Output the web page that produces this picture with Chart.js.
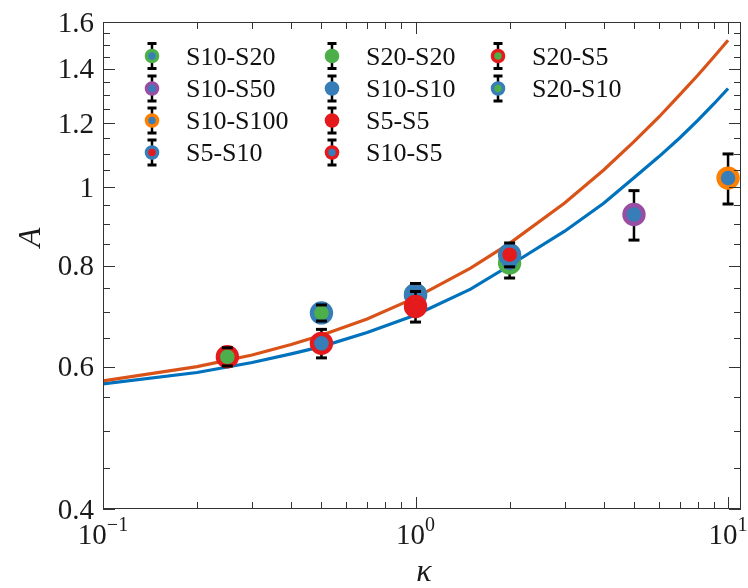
<!DOCTYPE html>
<html>
<head>
<meta charset="utf-8">
<script src="https://cdn.jsdelivr.net/npm/chart.js@4"></script>
<style>
  html, body { margin: 0; padding: 0; background: #fff; }
</style>
</head>
<body>
<canvas id="chart" width="748" height="588"></canvas>
<script>
// fitted curves
const kappaFit  = [0.1, 0.2, 0.3, 0.4, 0.5, 0.7, 1, 1.5, 2, 3, 4, 5, 6, 7, 8, 9, 10];
const fitOrange = [0.576, 0.600, 0.620, 0.639, 0.656, 0.687, 0.730, 0.794, 0.852, 0.956, 1.050, 1.138, 1.220, 1.300, 1.375, 1.448, 1.519];
const fitBlue   = [0.571, 0.590, 0.607, 0.622, 0.635, 0.661, 0.695, 0.748, 0.800, 0.882, 0.955, 1.027, 1.090, 1.150, 1.209, 1.267, 1.324];

// measured points
const names = ['S10-S20', 'S10-S50', 'S10-S100', 'S5-S10', 'S20-S20', 'S10-S10', 'S5-S5', 'S10-S5', 'S20-S5', 'S20-S10'];
const kappa = [2, 5, 10, 2, 1, 1, 1, 0.5, 0.25, 0.5];
const amp   = [0.806, 0.925, 1.026, 0.825, 0.736, 0.736, 0.712, 0.641, 0.617, 0.699];
const err   = [0.034, 0.065, 0.073, 0.028, 0.024, 0.024, 0.031, 0.026, 0.016, 0.016];

// ticks
const xMajor = [0.1, 1, 10];
const xExp   = ['\u22121', '0', '1'];
const xMinor = [0.2, 0.3, 0.4, 0.5, 0.6, 0.7, 0.8, 0.9, 2, 3, 4, 5, 6, 7, 8, 9];
const yMinor = [0.45, 0.5, 0.55, 0.65, 0.7, 0.75, 0.85, 0.9, 0.95, 1.05, 1.1, 1.15, 1.25, 1.3, 1.35, 1.45, 1.5, 1.55];
const yMajor = [0.4, 0.6, 0.8, 1, 1.2, 1.4, 1.6];
const yLabel = ['0.4', '0.6', '0.8', '1', '1.2', '1.4', '1.6'];

const GREEN = '#4daf4a', BLUE = '#377eb8', RED = '#e41a1c', PURPLE = '#984ea3', ORANGE = '#ff7f00';
const ringCol = [GREEN, PURPLE, ORANGE, BLUE, GREEN, BLUE, RED, RED, RED, BLUE];
const fillCol = [BLUE, BLUE, BLUE, RED, GREEN, BLUE, RED, BLUE, GREEN, GREEN];
const SERIF = '"Liberation Serif"';
const AXIS = '#333';

const pointSets = names.map((n, i) => ({
  type: 'scatter',
  label: n,
  data: [{ x: kappa[i], y: amp[i] }],
  err: [err[i]],
  pointBackgroundColor: fillCol[i],
  pointBorderColor: ringCol[i],
  pointRadius: 9.5,
  pointHoverRadius: 9.5,
  pointBorderWidth: 4.4,
  order: 10 - i,
}));

function curve(vals, color) {
  return {
    type: 'line',
    data: kappaFit.map((k, j) => ({ x: k, y: vals[j] })),
    borderColor: color, borderWidth: 3.2, pointRadius: 0, tension: 0, fill: false, order: 100,
  };
}

function drawCap(ctx, x, y, half) {
  ctx.beginPath();
  ctx.moveTo(x - half, y); ctx.lineTo(x + half, y);
  ctx.stroke();
}

const decor = {
  id: 'decor',
  beforeDatasetDraw(chart, args) {
    const ds = chart.data.datasets[args.index];
    if (!ds.err) return;
    const { ctx, scales: { x, y } } = chart;
    ctx.save();
    ctx.strokeStyle = '#000'; ctx.lineWidth = 2.5;
    ds.data.forEach((p, j) => {
      const px = x.getPixelForValue(p.x);
      ctx.beginPath();
      ctx.moveTo(px, y.getPixelForValue(p.y + ds.err[j]));
      ctx.lineTo(px, y.getPixelForValue(p.y - ds.err[j]));
      ctx.stroke();
    });
    ctx.restore();
  },
  afterDatasetDraw(chart, args) {
    const ds = chart.data.datasets[args.index];
    if (!ds.err) return;
    const { ctx, scales: { x, y } } = chart;
    ctx.save();
    ctx.strokeStyle = '#000'; ctx.lineWidth = 3;
    ds.data.forEach((p, j) => {
      const px = x.getPixelForValue(p.x);
      drawCap(ctx, px, y.getPixelForValue(p.y + ds.err[j]), 5.5);
      drawCap(ctx, px, y.getPixelForValue(p.y - ds.err[j]), 5.5);
    });
    ctx.restore();
  },
  afterDraw(chart) {
    const { ctx, chartArea: a, scales: { x, y } } = chart;
    ctx.save();
    ctx.strokeStyle = AXIS; ctx.lineWidth = 1;
    ctx.strokeRect(a.left + 0.5, a.top + 0.5, a.right - a.left - 1, a.bottom - a.top - 1);

    // inward ticks on all four sides
    const tickX = (v, len) => {
      const px = Math.round(x.getPixelForValue(v)) + 0.5;
      ctx.beginPath();
      ctx.moveTo(px, a.bottom); ctx.lineTo(px, a.bottom - len);
      ctx.moveTo(px, a.top); ctx.lineTo(px, a.top + len);
      ctx.stroke();
    };
    const tickY = (v, len) => {
      const py = Math.round(y.getPixelForValue(v)) + 0.5;
      ctx.beginPath();
      ctx.moveTo(a.left, py); ctx.lineTo(a.left + len, py);
      ctx.moveTo(a.right, py); ctx.lineTo(a.right - len, py);
      ctx.stroke();
    };
    xMinor.forEach(v => tickX(v, 7));
    xMajor.forEach(v => tickX(v, 12));
    yMinor.forEach(v => tickY(v, 7));
    yMajor.forEach(v => tickY(v, 12));

    // tick labels
    ctx.fillStyle = '#1a1a1a';
    ctx.textBaseline = 'alphabetic';
    ctx.font = '29px ' + SERIF;
    ctx.textAlign = 'right';
    yMajor.forEach((v, i) => {
      ctx.fillText(yLabel[i], a.left - 9, y.getPixelForValue(v) + 9.5);
    });
    xMajor.forEach((v, i) => {
      const px = x.getPixelForValue(v);
      ctx.font = '29px ' + SERIF;
      const wb = ctx.measureText('10').width;
      ctx.font = '20px ' + SERIF;
      const we = ctx.measureText(xExp[i]).width;
      const left = px - (wb + we) / 2;
      ctx.textAlign = 'left';
      ctx.font = '29px ' + SERIF;
      ctx.fillText('10', left, a.bottom + 35);
      ctx.font = '20px ' + SERIF;
      ctx.fillText(xExp[i], left + wb, a.bottom + 22);
    });

    // axis titles
    ctx.font = 'italic 32px ' + SERIF;
    ctx.textAlign = 'center';
    ctx.fillText('\u03ba', (a.left + a.right) / 2 + 2, a.bottom + 72);
    ctx.save();
    ctx.translate(40, (a.top + a.bottom) / 2 - 28);
    ctx.rotate(-Math.PI / 2);
    ctx.fillText('A', 0, 0);
    ctx.restore();

    // legend, three columns
    const colX = [152, 332, 498];
    const rowY = [56, 88.5, 120.5, 152.5];
    names.forEach((n, i) => {
      const cx = colX[Math.floor(i / 4)], cy = rowY[i % 4];
      ctx.strokeStyle = '#000'; ctx.lineWidth = 2.5;
      ctx.beginPath(); ctx.moveTo(cx, cy - 12.5); ctx.lineTo(cx, cy + 12.5); ctx.stroke();
      ctx.beginPath(); ctx.arc(cx, cy, 5.5, 0, Math.PI * 2);
      ctx.fillStyle = fillCol[i]; ctx.fill();
      ctx.strokeStyle = ringCol[i]; ctx.lineWidth = 3.6; ctx.stroke();
      ctx.strokeStyle = '#000'; ctx.lineWidth = 3;
      drawCap(ctx, cx, cy - 12.5, 4.5);
      drawCap(ctx, cx, cy + 12.5, 4.5);
      ctx.fillStyle = '#111';
      ctx.font = '26px ' + SERIF;
      ctx.textAlign = 'left';
      ctx.fillText(n, cx + 34, cy + 8.5);
    });
    ctx.restore();
  },
};

new Chart(document.getElementById('chart'), {
  type: 'scatter',
  data: {
    datasets: [...pointSets, curve(fitOrange, '#d95319'), curve(fitBlue, '#0072bd')],
  },
  options: {
    responsive: false,
    animation: false,
    layout: { autoPadding: false, padding: { left: 103, right: 7, top: 22, bottom: 79 } },
    plugins: { legend: { display: false }, tooltip: { enabled: false } },
    scales: {
      x: { type: 'logarithmic', min: 0.1, max: 11, display: false },
      y: { type: 'logarithmic', min: 0.4, max: 1.6, display: false },
    },
  },
  plugins: [decor],
});
</script>
</body>
</html>
